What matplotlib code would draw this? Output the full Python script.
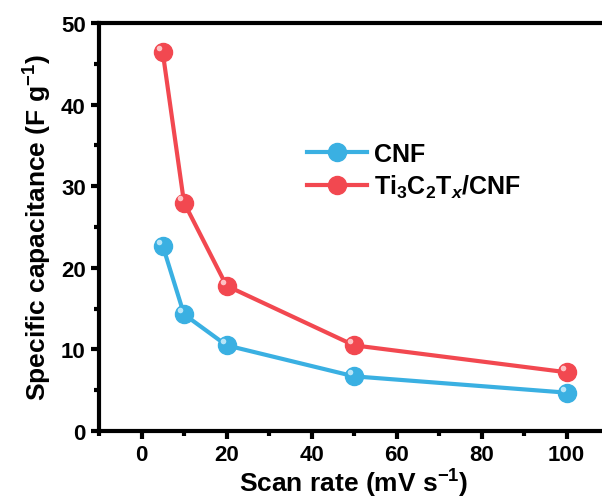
import matplotlib

matplotlib.use("Agg")

import matplotlib.pyplot as plt
from matplotlib.ticker import MultipleLocator

plt.rcParams["font.family"] = ["Liberation Sans", "DejaVu Sans"]
plt.rcParams["font.weight"] = "bold"
plt.rcParams["mathtext.fontset"] = "custom"
plt.rcParams["mathtext.rm"] = "Liberation Sans:bold"
plt.rcParams["mathtext.bf"] = "Liberation Sans:bold"
plt.rcParams["mathtext.it"] = "Liberation Sans:bold:italic"

scan_rate = [5, 10, 20, 50, 100]
cnf = [22.7, 14.3, 10.5, 6.7, 4.7]
ti3c2tx_cnf = [46.4, 28.0, 17.8, 10.5, 7.2]

series = [
    ("CNF", cnf, "#3ab0e2", "#c8ecfa"),
    ("Ti$_3$C$_2$T$_x$/CNF", ti3c2tx_cnf, "#f24850", "#ffd0d2"),
]

fig = plt.figure(figsize=(6.02, 5.02), dpi=100)
ax = fig.add_axes([99 / 602, 70 / 502, 510 / 602, 408 / 502])

for label, values, color, light in series:
    ax.plot(scan_rate, values, color=color, lw=3, marker="o", ms=13,
            mfc=color, mec=color, label=label, zorder=3)
    # small highlight to mimic the shaded sphere markers
    ax.plot([x - 0.9 for x in scan_rate], [v + 0.5 for v in values], ls="none",
            marker="o", ms=4, mfc=light, mec="none", alpha=0.9, zorder=4)

ax.set_xlim(-10, 110)
ax.set_ylim(0, 50)
ax.xaxis.set_major_locator(MultipleLocator(20))
ax.xaxis.set_minor_locator(MultipleLocator(10))
ax.yaxis.set_major_locator(MultipleLocator(10))
ax.yaxis.set_minor_locator(MultipleLocator(5))

ax.spines["right"].set_visible(False)
for side in ["left", "bottom", "top"]:
    ax.spines[side].set_linewidth(3)

ax.tick_params(which="major", direction="out", length=6, width=3, labelsize=16)
ax.tick_params(which="minor", direction="out", length=3.5, width=3)
for t in ax.get_xticklabels() + ax.get_yticklabels():
    t.set_fontweight("bold")

ax.set_xlabel("Scan rate (mV s$^{-1}$)", fontsize=19, fontweight="bold", labelpad=1)
ax.set_ylabel("Specific capacitance (F g$^{-1}$)", fontsize=19, fontweight="bold", labelpad=5)

ax.legend(loc="upper left", bbox_to_anchor=(284 / 602, 1 - 120 / 502),
          bbox_transform=fig.transFigure, frameon=False,
          handlelength=2.4, handletextpad=0.3, labelspacing=0.3,
          prop={"weight": "bold", "size": 18})

fig.savefig("out.png", dpi=100)
